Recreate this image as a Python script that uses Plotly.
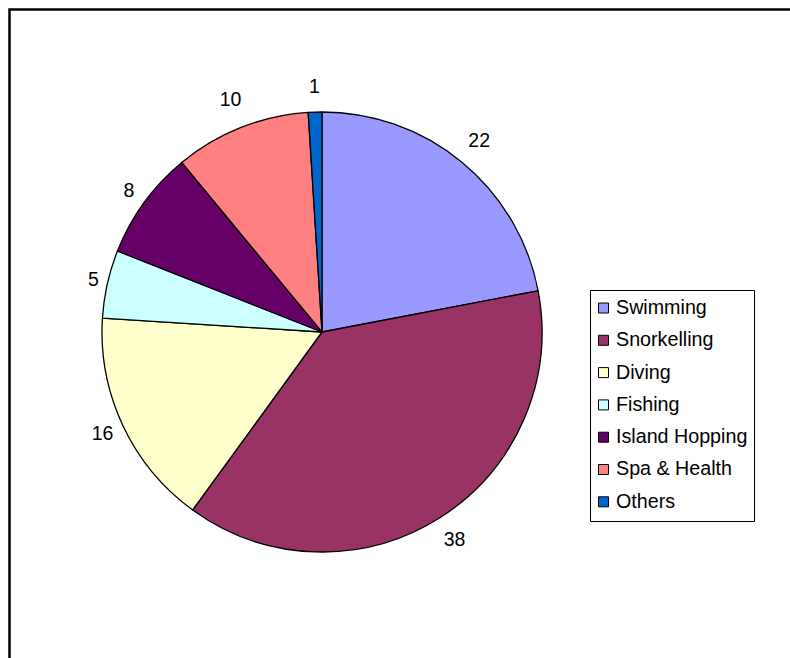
import math
import plotly.graph_objects as go

# Activity shares (%)
activities = ["Swimming", "Snorkelling", "Diving", "Fishing",
              "Island Hopping", "Spa & Health", "Others"]
shares = [22, 38, 16, 5, 8, 10, 1]
colors = ["#9999FF", "#993366", "#FFFFCC", "#CCFFFF",
          "#660066", "#FF8080", "#0066CC"]

W, H = 790, 658
FONT = "Arial, Liberation Sans, sans-serif"
LABEL_SIZE = 19.5

# pie placement (pixels)
cx, cy, r = 322, 332, 220

fig = go.Figure(go.Pie(
    labels=activities,
    values=shares,
    sort=False,
    direction="clockwise",
    rotation=0,
    marker=dict(colors=colors, line=dict(color="black", width=1.3)),
    textinfo="none",
    showlegend=False,
    hoverinfo="label+value",
    domain=dict(x=[(cx - r) / W, (cx + r) / W],
                y=[(H - cy - r) / H, (H - cy + r) / H]),
))

# value labels at each slice's mid-angle (clockwise from 12 o'clock);
# wider labels and those above/below the pie sit a little further out
total = sum(shares)
digit_w = 0.545 * LABEL_SIZE
lx, ly, cum = [], [], 0
for v in shares:
    mid = (cum + v / 2) / total * 2 * math.pi
    ux, uy = math.sin(mid), math.cos(mid)
    w = len(str(v)) * digit_w
    dist = (225.7 + 0.55 * w + 12 * abs(uy)) / r
    lx.append(dist * ux)
    ly.append(dist * uy)
    cum += v

fig.add_trace(go.Scatter(
    x=lx, y=ly, mode="text",
    text=[str(v) for v in shares],
    textposition="middle center",
    textfont=dict(family=FONT, size=LABEL_SIZE, color="black"),
    hoverinfo="skip", showlegend=False,
))

# axes in pie-radius units, centred on the pie
fig.update_xaxes(range=[-cx / r, (W - cx) / r], visible=False,
                 domain=[0, 1], fixedrange=True)
fig.update_yaxes(range=[-(H - cy) / r, cy / r], visible=False,
                 domain=[0, 1], fixedrange=True)

shapes = []
annotations = []

# chart-area frame (runs off the right and bottom edges)
fx, fy = 9.5, 9.5
shapes.append(dict(type="rect", xref="paper", yref="paper",
                   x0=fx / W, x1=(W + 20) / W,
                   y0=-20 / H, y1=1 - fy / H,
                   line=dict(color="black", width=2.5),
                   fillcolor="rgba(0,0,0,0)", layer="above"))

# legend box
bx0, bx1, by0, by1 = 590.5, 754.5, 290.5, 521.5
shapes.append(dict(type="rect", xref="paper", yref="paper",
                   x0=bx0 / W, x1=bx1 / W,
                   y0=1 - by1 / H, y1=1 - by0 / H,
                   line=dict(color="black", width=1),
                   fillcolor="white", layer="above"))

row0, step, sw = 308, 32.3, 10
for i, (name, col) in enumerate(zip(activities, colors)):
    yc = row0 + i * step
    shapes.append(dict(type="rect", xref="paper", yref="paper",
                       x0=598.5 / W, x1=(598.5 + sw) / W,
                       y0=1 - (yc + sw / 2) / H, y1=1 - (yc - sw / 2) / H,
                       line=dict(color="black", width=1),
                       fillcolor=col, layer="above"))
    annotations.append(dict(xref="paper", yref="paper",
                            x=614 / W, y=1 - (yc - 1) / H,
                            xanchor="left", yanchor="middle",
                            text=name, showarrow=False,
                            font=dict(family=FONT, size=19.7, color="black")))

fig.update_layout(
    width=W, height=H,
    margin=dict(l=0, r=0, t=0, b=0),
    paper_bgcolor="white",
    plot_bgcolor="rgba(0,0,0,0)",
    shapes=shapes,
    annotations=annotations,
)

fig.write_html("out.html")
